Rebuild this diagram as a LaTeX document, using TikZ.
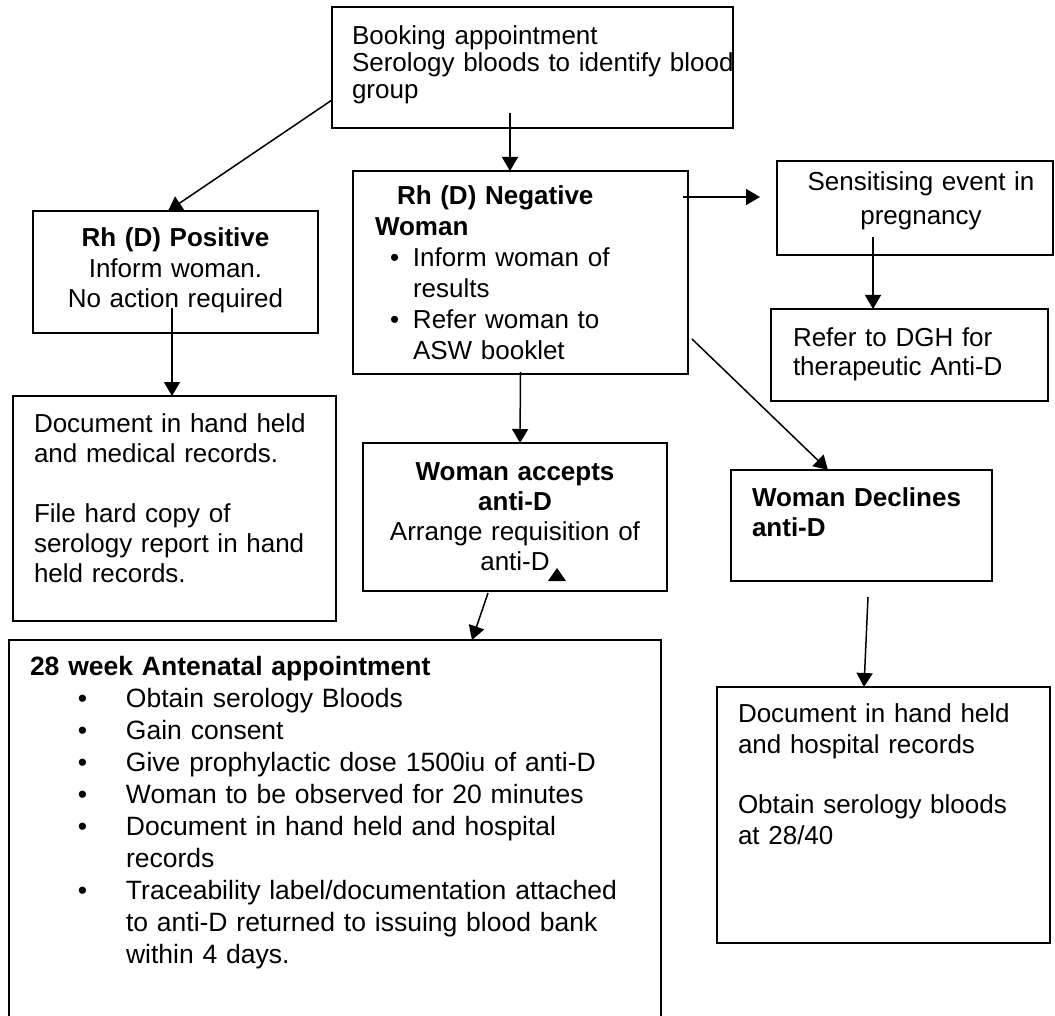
\documentclass[tikz,border=0pt]{standalone}
\usepackage{fontspec}
\setmainfont{Liberation Sans}
\setsansfont{Liberation Sans}
\usepackage{tikz}
\usetikzlibrary{arrows.meta, positioning, calc}
\newcommand{\dotline}[3]{\par\hangindent=\dimexpr#1+#2\relax\hangafter=1\noindent\hspace*{#1}\makebox[#2][l]{\textbullet}#3\par}
\tikzset{
  panel/.style={draw, line width=1pt, inner sep=0pt, outer sep=0pt, anchor=north west},
  note/.style={anchor=base west, inner sep=0pt, outer sep=0pt, align=left, font=\fontsize{13}{15}\selectfont},
  mid/.style={anchor=base, inner sep=0pt, outer sep=0pt, align=center, font=\fontsize{13}{15}\selectfont},
  link/.style={-{Triangle[length=7pt, width=8pt]}, line width=0.75pt},
}
\begin{document}
\begin{tikzpicture}[x=0.5pt, y=-0.5pt]
  \path[use as bounding box, clip] (0,0) rectangle (1055,1016);
  \node[panel, minimum width=200.5pt, minimum height=60.5pt] (book) at (332,7) {};
  \node[panel, minimum width=142.5pt, minimum height=61pt] (pos) at (33,211) {};
  \node[panel, minimum width=161.5pt, minimum height=112.5pt] (docl) at (13,396) {};
  \node[panel, minimum width=167.5pt, minimum height=101.5pt] (neg) at (353,171) {};
  \node[panel, minimum width=152pt, minimum height=74pt] (acc) at (363,443) {};
  \node[panel, minimum width=138pt, minimum height=47pt] (sens) at (777,161) {};
  \node[panel, minimum width=138.5pt, minimum height=46pt] (dgh) at (771,309) {};
  \node[panel, minimum width=130.5pt, minimum height=55.5pt] (decl) at (731,470) {};
  \node[panel, minimum width=166.5pt, minimum height=128pt] (docr) at (717,687) {};
  \node[panel, minimum width=326pt, minimum height=195pt] (wk) at (9,640) {};
  \node[note, text width=195pt, font=\fontsize{13}{13.35}\selectfont] (book-t) at (352,45) {Booking appointment\\Serology bloods to identify blood\\group};
  \node[mid, text width=140pt, font=\fontsize{13}{15.25}\selectfont] (pos-t) at (175.5,247) {\textbf{Rh (D) Positive}\\Inform woman.\\No action required};
  \node[note, text width=155pt] (docl-t) at (34,432) {Document in hand held\\and medical records.\\[15pt]File hard copy of\\serology report in hand\\held records.};
  \node[note, text width=150pt, font=\fontsize{13}{15.5}\selectfont] (neg-t) at (375,205) {\textbf{\hspace*{11pt}Rh (D) Negative}\\\textbf{Woman}
    \dotline{7.5pt}{11.5pt}{Inform woman of\newline results}
    \dotline{7.5pt}{11.5pt}{Refer woman to\newline ASW booklet}};
  \node[mid, text width=150pt] (acc-t) at (515,480) {\textbf{Woman accepts}\\\textbf{anti-D}\\Arrange requisition of\\anti-D};
  \node[mid, text width=136pt] (sens-t) at (921,191) {Sensitising event in\\[2pt]pregnancy};
  \node[note, text width=135pt, font=\fontsize{13}{14.5}\selectfont] (dgh-t) at (793,346) {Refer to DGH for\\therapeutic Anti-D};
  \node[note, text width=125pt, font=\fontsize{13}{15}\selectfont\bfseries] (decl-t) at (752,506) {Woman Declines\\anti-D};
  \node[note, text width=160pt, font=\fontsize{13}{15.5}\selectfont] (docr-t) at (738,722) {Document in hand held\\and hospital records\\[14.5pt]Obtain serology bloods\\at 28/40};
  \node[note, text width=310pt, font=\fontsize{13.25}{16}\selectfont] (wk-t) at (30,675) {\textbf{28 week Antenatal appointment}
    \dotline{24pt}{24pt}{Obtain serology Bloods}
    \dotline{24pt}{24pt}{Gain consent}
    \dotline{24pt}{24pt}{Give prophylactic dose 1500iu of anti-D}
    \dotline{24pt}{24pt}{Woman to be observed for 20 minutes}
    \dotline{24pt}{24pt}{Document in hand held and hospital\newline records}
    \dotline{24pt}{24pt}{Traceability label/documentation attached\newline to anti-D returned to issuing blood bank\newline within 4 days.}};
  \draw[link] ($(book.west)+(0,32.5)$) -- ($(pos.north)+(-7.5,0)$);
  \draw[link] ($(book.south)+(-22.5,-15)$) -- ($(neg.north)+(-10.5,0)$);
  \draw[link] ($(neg.east)+(-5,-75.5)$) -- ($(sens.west)+(-17,-11)$);
  \draw[link] ($(sens.south)+(-42,-18)$) -- ($(dgh.north)+(-36.5,0)$);
  \draw[link] ($(pos.south)+(-3.5,-25)$) -- ($(docl.north)+(-2.5,0)$);
  \draw[link] ($(neg.south)+(0,-2)$) -- ($(acc.north)+(5,0)$);
  \draw[link] ($(neg.east)+(4,66.5)$) -- ($(decl.north)+(-33.5,0)$);
  \draw[link] ($(acc.south)+(-27,2)$) -- ($(wk.north)+(137,0)$);
  \draw[link] ($(decl.south)+(6.5,16)$) -- ($(docr.north)+(-19.5,0)$);
  \fill ($(acc.south)+(42,-23)$) -- ($(acc.south)+(33,-10)$) -- ($(acc.south)+(51,-10)$) -- cycle;
\end{tikzpicture}
\end{document}
